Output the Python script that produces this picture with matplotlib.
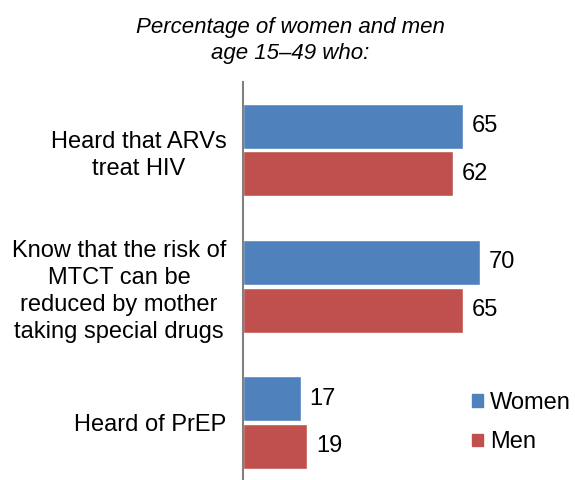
import matplotlib
matplotlib.use('Agg')
from matplotlib import pyplot as plt
from matplotlib.patches import Patch
import numpy as np

plt.rcParams['font.family'] = ['Liberation Sans', 'DejaVu Sans']

categories = ['Heard that ARVs\ntreat HIV',
              'Know that the risk of\nMTCT can be\nreduced by mother\ntaking special drugs',
              'Heard of PrEP']
women = [65, 70, 17]
men = [62, 65, 19]

blue = '#4F81BD'
red = '#C0504D'

fig = plt.figure(figsize=(5.75, 4.8), dpi=100)
# axes spans from the top of the axis line to below the figure edge
ax = fig.add_axes([243/575, (480-490.5)/480, (575-243)/575, 408.5/480])

y = np.arange(len(categories))
off = 0.175
h = 0.33
ax.barh(y - off, women, height=h, color=blue, edgecolor='white', linewidth=1)
ax.barh(y + off, men, height=h, color=red, edgecolor='white', linewidth=1)

for i in range(len(categories)):
    ax.text(women[i] + 2.6, y[i] - off, str(women[i]), va='center', ha='left', fontsize=17)
    ax.text(men[i] + 2.6, y[i] + off, str(men[i]), va='center', ha='left', fontsize=17)

ax.set_xlim(0, 98)
ax.set_ylim(2.5, -0.5)
ax.set_yticks(y)
ax.set_yticklabels(categories, fontsize=17, linespacing=1.3)
for t in ax.get_yticklabels():
    t.set_multialignment('center')
ax.tick_params(axis='y', length=0, pad=12)
ax.set_xticks([])
for s in ['top', 'right', 'bottom']:
    ax.spines[s].set_visible(False)
ax.spines['left'].set_color('#808080')
ax.spines['left'].set_linewidth(1.5)

fig.text(290/575, 1 - 40.5/480, 'Percentage of women and men\nage 15\u201349 who:',
         ha='center', va='center', fontsize=16, style='italic', linespacing=1.28)

handles = [Patch(color=blue, label='Women'), Patch(color=red, label='Men')]
fig.legend(handles=handles, loc='center left', bbox_to_anchor=(472/575, 1 - 422.5/480),
           frameon=False, fontsize=17, handlelength=0.45, handleheight=0.45,
           handletextpad=0.3, labelspacing=0.75, borderpad=0, borderaxespad=0)

fig.savefig('out.png', dpi=100)
